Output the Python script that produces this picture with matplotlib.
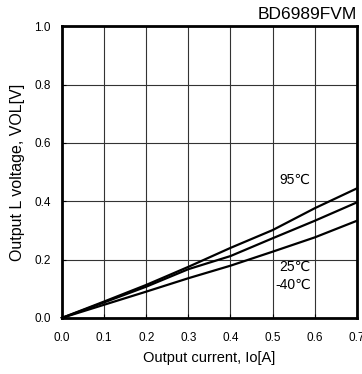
import numpy as np
import matplotlib
matplotlib.use('Agg')
import matplotlib.pyplot as plt

plt.rcParams['font.family'] = ['Liberation Sans', 'DejaVu Sans']

current = [0.0, 0.1, 0.2, 0.3, 0.4, 0.5, 0.6, 0.7]
v_95 = [0.0, 0.056, 0.113, 0.175, 0.240, 0.301, 0.376, 0.444]
v_25 = [0.0, 0.053, 0.107, 0.167, 0.212, 0.273, 0.333, 0.396]
v_m40 = [0.0, 0.045, 0.090, 0.136, 0.179, 0.227, 0.276, 0.333]

xticks = [0.0, 0.1, 0.2, 0.3, 0.4, 0.5, 0.6, 0.7]
yticks = [0.0, 0.2, 0.4, 0.6, 0.8, 1.0]

fig = plt.figure(figsize=(3.62, 3.74), dpi=100)
ax = fig.add_axes([0.171, 0.150, 0.815, 0.780])

for v in (v_95, v_25, v_m40):
    ax.plot(current, v, color='black', lw=1.6, clip_on=False, zorder=3)

ax.set_xlim(0, 0.7)
ax.set_ylim(0, 1.0)
ax.set_xticks(xticks)
ax.set_yticks(yticks)
ax.set_xticklabels(['%.1f' % t for t in xticks], fontsize=8.5)
ax.set_yticklabels(['%.1f' % t for t in yticks], fontsize=8.5)
ax.tick_params(direction='in', length=3, width=0.8)
ax.tick_params(axis='x', pad=10)
ax.tick_params(axis='y', pad=8)
ax.grid(True, color='#333333', lw=0.8)

for s in ax.spines.values():
    s.set_linewidth(2)

ax.set_xlabel('Output current, Io[A]', fontsize=10.5, labelpad=5)
ax.set_ylabel('Output L voltage, VOL[V]', fontsize=11.5, labelpad=7)

ax.text(0.553, 0.473, '95℃', fontsize=10, ha='center', va='center')
ax.text(0.553, 0.175, '25℃', fontsize=10, ha='center', va='center')
ax.text(0.548, 0.113, '-40℃', fontsize=10, ha='center', va='center')

fig.text(0.986, 0.962, 'BD6989FVM', fontsize=12.5, ha='right', va='center')

fig.savefig('out.png', dpi=100)
